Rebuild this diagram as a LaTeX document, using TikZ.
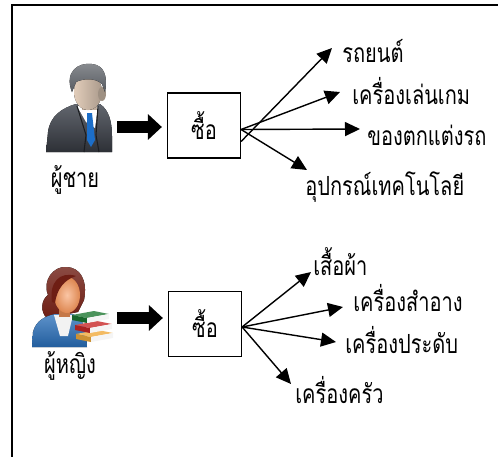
\documentclass[tikz,border=0pt]{standalone}
\usepackage{fontspec}
\usepackage{tikz}
\usetikzlibrary{arrows.meta}
\newfontfamily\thai[Script=Thai, FakeStretch=0.76]{Loma}
\definecolor{SuitDark}{RGB}{45, 48, 54}
\definecolor{SuitLight}{RGB}{98, 102, 110}
\definecolor{HairGray}{RGB}{88, 92, 98}
\definecolor{SkinMan}{RGB}{226, 205, 186}
\definecolor{TieBlue}{RGB}{28, 110, 200}
\definecolor{HairBrown}{RGB}{110, 30, 20}
\definecolor{SkinWoman}{RGB}{246, 150, 90}
\definecolor{TopBlue}{RGB}{40, 110, 185}
\definecolor{BookGreen}{RGB}{30, 120, 50}
\definecolor{BookRed}{RGB}{200, 40, 40}
\definecolor{BookOrange}{RGB}{240, 170, 60}

\tikzset{
  thaitext/.style={font=\thai\fontsize{15}{18}\selectfont},
  buybox/.style={draw, thaitext, line width=0.7pt, minimum width=1.46cm, minimum height=1.3cm},
  itemlabel/.style={thaitext, anchor=base west, inner sep=0pt},
  namelabel/.style={thaitext, anchor=base, inner sep=0pt},
  fatarrow/.style={line width=6.5pt, -{Triangle[length=0.28cm, width=0.5cm]}, shorten <=0.08cm, shorten >=0.1cm},
  branch/.style={line width=0.8pt, -{Triangle[length=0.3cm, width=0.28cm]}},
}
% one book of the stack: #1 colour, (#2,#3) top left corner
\newcommand{\book}[3]{%
  \fill[#1!80!white] (#2,#3+4) -- (#2+22,#3) -- (#2+37,#3+3) -- (#2+15,#3+7) -- cycle;
  \fill[#1!85!black] (#2,#3+4) -- (#2+15,#3+7) -- (#2+15,#3+12) -- (#2,#3+9) -- cycle;
  \fill[white!92!gray] (#2+15,#3+7) -- (#2+37,#3+3) -- (#2+37,#3+8) -- (#2+15,#3+12) -- cycle;
}

\begin{document}
\begin{tikzpicture}[x=0.02cm, y=-0.02cm]
\useasboundingbox (0,0) rectangle (498,457);

% frame
\draw[line width=1.1pt] (12,457) -- (12,5) -- (498,5);

% --- man ---
\node[inner sep=0pt, minimum width=1.32cm, minimum height=1.74cm] (man) at (80,127) {};
\fill[top color=SuitLight, bottom color=SuitDark] (46,152) -- (48,132) .. controls (50,116) and (62,108) .. (76,104) -- (100,104) .. controls (109,110) and (112,122) .. (112,136) -- (112,152) -- cycle;
\fill[white] (77,106) -- (98,106) -- (95,128) -- (86,122) -- cycle;
\fill[TieBlue] (87,113) -- (92,113) -- (95,140) -- (91,147) -- (87,140) -- cycle;
\draw[SuitDark!60!black, line width=0.6pt] (77,106) -- (86,135) -- (84,152);
\draw[SuitDark!60!black, line width=0.6pt] (98,106) -- (96,135) -- (99,152);
\fill[SkinMan!85!black] (82,98) rectangle (97,110);
\fill[left color=SkinMan, right color=SkinMan!75!black] (88,92) ellipse [x radius=14, y radius=18];
\fill[SkinMan!70!black] (102,94) ellipse [x radius=4, y radius=7];
\fill[top color=HairGray!70!white, bottom color=HairGray] (72,92) .. controls (64,72) and (78,62) .. (92,64) .. controls (104,65) and (108,76) .. (105,92) -- (102,84) .. controls (96,78) and (84,78) .. (76,82) -- cycle;
\node[namelabel] (manlabel) at (75,187) {ผู้ชาย};

\node[buybox] (buy1) at (204,125.5) {ซื้อ};
\draw[fatarrow] (man.east) -- (man.east -| buy1.west);

% what men buy
\coordinate (tcar) at (332,48);
\coordinate (tgame) at (340,92);
\coordinate (tdecor) at (360,129);
\coordinate (ttech) at (307,170);
\draw[branch] ([yshift=-0.32cm]buy1.east) -- (tcar);
\draw[branch] ([yshift=-0.08cm]buy1.east) -- (tgame);
\draw[branch] ([yshift=-0.08cm]buy1.east) -- (tdecor);
\draw[branch] ([yshift=-0.08cm]buy1.east) -- (ttech);
\node[itemlabel] (car) at (342,62) {รถยนต์};
\node[itemlabel] (game) at (352,104) {เครื่องเล่นเกม};
\node[itemlabel] (decor) at (367,145) {ของตกแต่งรถ};
\node[itemlabel] (tech) at (305,195) {อุปกรณ์เทคโนโลยี};

% --- woman ---
\node[inner sep=0pt, minimum width=1.54cm, minimum height=1.56cm] (woman) at (74,318) {};
\fill[top color=HairBrown!80!white, bottom color=HairBrown] (47,318) .. controls (40,312) and (41,300) .. (48,295) .. controls (42,280) and (54,266) .. (66,267) .. controls (80,267) and (88,280) .. (84,300) -- (78,312) -- cycle;
\fill[top color=TopBlue!75!white, bottom color=TopBlue!85!black] (32,347) -- (33,332) .. controls (36,320) and (46,316) .. (55,314) -- (72,314) .. controls (80,316) and (86,322) .. (87,347) -- cycle;
\fill[white!90!gray] (54,315) -- (73,315) -- (68,336) -- (60,336) -- cycle;
\fill[SkinWoman!80!black] (59,304) rectangle (70,317);
\shade[inner color=SkinWoman!55!white, outer color=SkinWoman!90!black] (67,295) ellipse [x radius=13, y radius=18];
\fill[HairBrown] (52,302) .. controls (49,282) and (60,271) .. (76,276) .. controls (64,280) and (57,289) .. (55,303) -- cycle;
% books
\book{BookOrange}{76}{330}
\book{BookRed}{75}{321}
\book{BookGreen}{72}{311}
\node[namelabel] (womanlabel) at (70,373) {ผู้หญิง};

\node[buybox] (buy2) at (205,324) {ซื้อ};
\draw[fatarrow] (woman.east) -- (woman.east -| buy2.west);

% what women buy
\coordinate (tcloth) at (311,272);
\coordinate (tcosm) at (343,307);
\coordinate (tjewel) at (336,342);
\coordinate (tkitch) at (291,384);
\draw[branch] ([yshift=-0.06cm]buy2.east) -- (tcloth);
\draw[branch] ([yshift=-0.06cm]buy2.east) -- (tcosm);
\draw[branch] ([yshift=-0.06cm]buy2.east) -- (tjewel);
\draw[branch] ([yshift=-0.06cm]buy2.east) -- (tkitch);
\node[itemlabel] (cloth) at (313,275) {เสื้อผ้า};
\node[itemlabel] (cosm) at (353,311) {เครื่องสำอาง};
\node[itemlabel] (jewel) at (345,353) {เครื่องประดับ};
\node[itemlabel] (kitch) at (295,403) {เครื่องครัว};
\end{tikzpicture}
\end{document}
